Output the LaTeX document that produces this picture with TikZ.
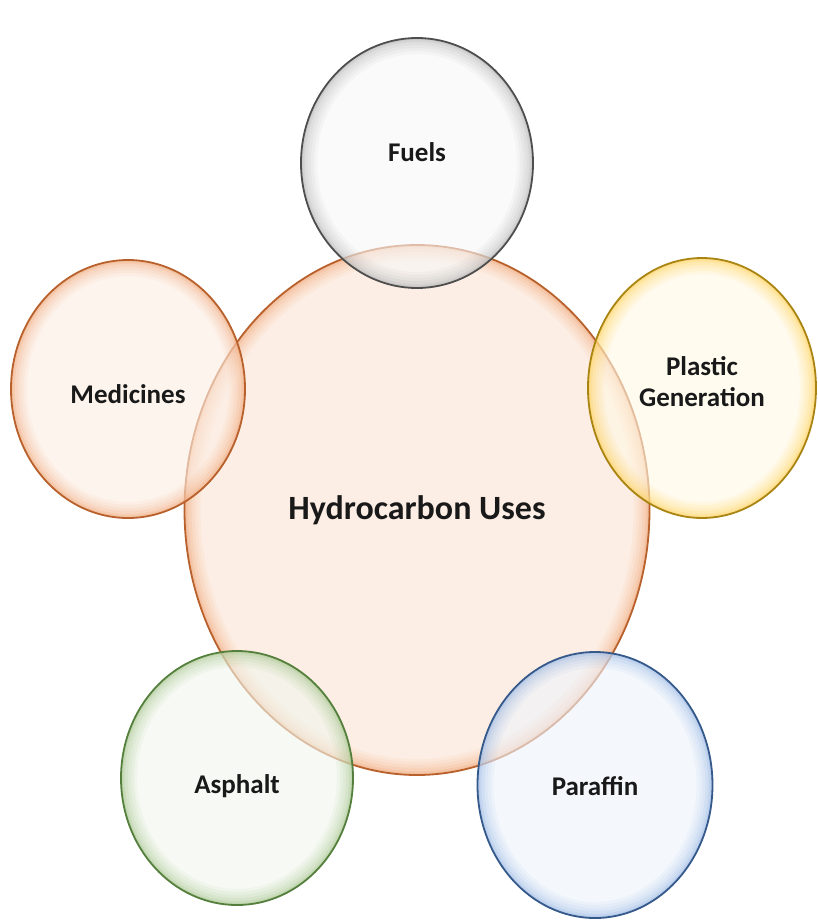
\documentclass[tikz,border=0pt]{standalone}
\usepackage{fontspec}
\setmainfont{Carlito}
\usetikzlibrary{shapes.geometric,calc}

\definecolor{hubline}{HTML}{B8612C}
\definecolor{hubfill}{HTML}{FCEEE4}
\definecolor{hubrim}{HTML}{F09A62}
\definecolor{greyline}{HTML}{4E4E4E}
\definecolor{greyfill}{HTML}{F7F7F7}
\definecolor{greyrim}{HTML}{A6A6A6}
\definecolor{goldline}{HTML}{A98412}
\definecolor{goldfill}{HTML}{FFF8E4}
\definecolor{goldrim}{HTML}{FFC935}
\definecolor{greenline}{HTML}{557F3C}
\definecolor{greenfill}{HTML}{F1F6ED}
\definecolor{greenrim}{HTML}{93BB75}
\definecolor{blueline}{HTML}{35598A}
\definecolor{bluefill}{HTML}{EEF3FB}
\definecolor{bluerim}{HTML}{86ABE0}

\tikzset{
  bubble/.style={ellipse, line width=1.8pt, font=\bfseries\fontsize{27}{31}\selectfont,
    align=center, text=black!90, inner sep=0pt, fill opacity=0.62, text opacity=1},
  % soft coloured glow just inside the edge
  rim/.style={path picture={
    \foreach \w/\o in {32/0.07,26/0.08,20/0.09,14/0.12,8/0.16,4/0.2}
      \draw[#1, line width=\w pt, draw opacity=\o]
        let \p1=(path picture bounding box.north east),
            \p2=(path picture bounding box.center) in
        (\p2) ellipse [x radius=\x1-\x2, y radius=\y1-\y2];
  }},
  hubbubble/.style={bubble, draw=hubline, fill=hubfill, rim=hubrim, fill opacity=1,
    font=\bfseries\fontsize{34}{38}\selectfont}
}

\begin{document}
\begin{tikzpicture}[x=1pt,y=-1pt]
\useasboundingbox (0,0) rectangle (817,924);

% centre
\node[hubbubble, minimum width=465pt, minimum height=530pt] (hub) at (417,510) {Hydrocarbon Uses};

% uses around it
\node[bubble, draw=greyline, fill=greyfill, rim=greyrim, minimum width=232pt, minimum height=250pt] (fuels) at (417,163) {};
\node[bubble, draw=hubline, fill=hubfill, rim=hubrim, minimum width=234pt, minimum height=258pt] (medicines) at (128,389) {};
\node[bubble, draw=goldline, fill=goldfill, rim=goldrim, minimum width=228pt, minimum height=260pt] (plastic) at (702,388) {};
\node[bubble, draw=greenline, fill=greenfill, rim=greenrim, minimum width=232pt, minimum height=254pt] (asphalt) at (237,778) {};
\node[bubble, draw=blueline, fill=bluefill, rim=bluerim, minimum width=235pt, minimum height=266pt] (paraffin) at (595,785) {};

% labels
\node[bubble] (fuelstext) at (417,152) {Fuels};
\node[bubble] (medicinestext) at (128,394) {Medicines};
\node[bubble] (plastictext) at (702,382) {Plastic\\Generation};
\node[bubble] (asphalttext) at (237,786) {Asphalt};
\node[bubble] (paraffintext) at (595,786) {Paraffin};
\end{tikzpicture}
\end{document}
